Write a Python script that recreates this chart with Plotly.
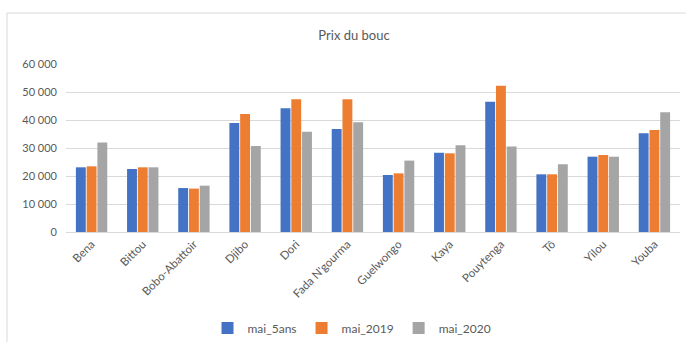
import plotly.graph_objects as go

categories = ["Bena", "Bittou", "Bobo-Abattoir", "Djibo", "Dori", "Fada N'gourma",
              "Guelwongo", "Kaya", "Pouytenga", "Tô", "Yilou", "Youba"]
mai_5ans = [23100, 22500, 15700, 38900, 44200, 36800, 20350, 28300, 46550, 20600, 26900, 35250]
mai_2019 = [23450, 23100, 15500, 42100, 47400, 47400, 20950, 28100, 52250, 20600, 27500, 36400]
mai_2020 = [32000, 23100, 16550, 30700, 35800, 39200, 25500, 30950, 30500, 24200, 26900, 42750]
series_names = ["mai_5ans", "mai_2019", "mai_2020"]
colors = ["#4472C4", "#ED7D31", "#A5A5A5"]

L, R, T, B = 66, 6, 64, 110
W, H = 686, 342
pw, ph = W - L - R, H - T - B

def px_x(x):
    return (x - L) / pw

def px_y(y):
    return (H - B - y) / ph

fig = go.Figure()
for name, vals, col in zip(series_names, [mai_5ans, mai_2019, mai_2020], colors):
    fig.add_trace(go.Bar(x=categories, y=vals, name=name,
                         marker=dict(color=col, line=dict(width=0))))

fig.update_layout(
    width=W, height=H,
    margin=dict(l=L, r=R, t=T, b=B),
    paper_bgcolor="white", plot_bgcolor="white",
    barmode="group", bargap=0.37, bargroupgap=0.08,
    separators=", ",
    font=dict(family="Lato, Open Sans, sans-serif", color="#595959", size=11),
    title=dict(text="Prix du bouc", x=px_x(354), xref="paper", xanchor="center",
               y=1 - 35 / H, yref="container", yanchor="middle",
               font=dict(size=13, color="#595959")),
    xaxis=dict(tickangle=-45, showgrid=False, showline=True, linecolor="#D9D9D9",
               linewidth=1, ticks="", tickfont=dict(size=11.5, color="#595959")),
    yaxis=dict(range=[0, 60000], dtick=10000, tickformat=",d", showgrid=True,
               gridcolor="#D9D9D9", gridwidth=1, zeroline=False, showline=False,
               ticks="", tickfont=dict(size=11, color="#595959"), ticklabelstandoff=8),
    legend=dict(orientation="h", x=px_x(352), xanchor="center",
                yref="container", y=1 - 328 / H, yanchor="middle",
                font=dict(size=12, color="#595959"),
                itemwidth=30, tracegroupgap=0, bgcolor="rgba(0,0,0,0)"),
    showlegend=True,
    shapes=[dict(type="rect", xref="paper", yref="paper",
                 x0=px_x(7), x1=px_x(720), y0=px_y(360), y1=px_y(13),
                 line=dict(color="#D9D9D9", width=1), fillcolor="rgba(0,0,0,0)",
                 layer="below")],
)

fig.write_html("out.html")
